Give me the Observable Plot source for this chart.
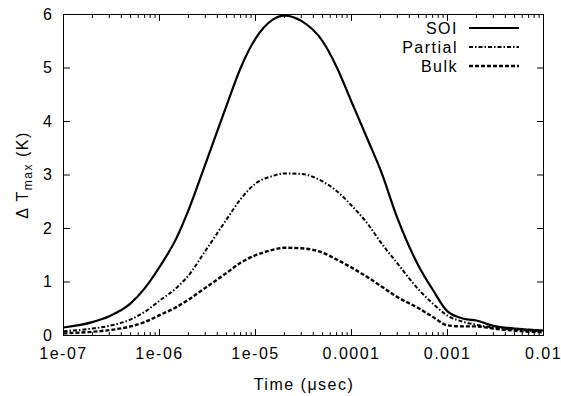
<!DOCTYPE html>
<html><head><meta charset="utf-8">
<script src="https://cdn.jsdelivr.net/npm/d3@7"></script>
<script src="https://cdn.jsdelivr.net/npm/@observablehq/plot@0.6"></script>
<style>
body{margin:0;background:#fff}
svg{display:block}
svg text{letter-spacing:1.5px}
</style>
</head><body><div id="chart"></div>
<script>
// Time in µsec (log axis)
const time = [1e-7,2e-7,3e-7,5e-7,7e-7,1e-6,1.5e-6,2e-6,3e-6,5e-6,7e-6,1e-5,1.5e-5,2e-5,3e-5,5e-5,7e-5,1e-4,1.5e-4,2e-4,3e-4,5e-4,7e-4,1e-3,1.5e-3,2e-3,3e-3,5e-3,7e-3,1e-2];
const soi     = [0.15,0.25,0.36,0.60,0.88,1.28,1.82,2.34,3.20,4.30,5.00,5.55,5.90,5.98,5.88,5.50,5.02,4.37,3.63,3.10,2.20,1.30,0.86,0.45,0.31,0.28,0.18,0.13,0.11,0.09];
const partial = [0.08,0.13,0.18,0.30,0.44,0.65,0.89,1.12,1.58,2.17,2.55,2.84,2.98,3.03,3.02,2.88,2.70,2.43,2.07,1.75,1.35,0.86,0.60,0.37,0.25,0.20,0.15,0.11,0.09,0.075];
const bulk    = [0.04,0.07,0.10,0.17,0.25,0.38,0.53,0.67,0.89,1.17,1.36,1.50,1.60,1.64,1.63,1.55,1.42,1.27,1.08,0.93,0.72,0.51,0.35,0.19,0.17,0.17,0.13,0.09,0.07,0.06];

const seriesNames = ["SOI","Partial","Bulk"];
const xTicks = [1e-7,1e-6,1e-5,1e-4,1e-3,1e-2];
const xTickLabels = ["1e-07","1e-06","1e-05","0.0001","0.001","0.01"];
const yTicks = [0,1,2,3,4,5,6];
const yTickLabels = ["0","1","2","3","4","5","6"];
const xTitle = "Time (μsec)";

const styles = {
  SOI:     {strokeWidth: 2.2, dash: null},
  Partial: {strokeWidth: 2,   dash: "4,2,1.5,2"},
  Bulk:    {strokeWidth: 2.4, dash: "4,2"}
};
const seriesValues = {SOI: soi, Partial: partial, Bulk: bulk};

const xMinor = [];
for (let e = -7; e < -2; e++) for (let m = 2; m <= 9; m++) xMinor.push(m * Math.pow(10, e));

const tickShape = {draw(ctx, l) { ctx.moveTo(0, 0); ctx.lineTo(0, -l); }};
const tickMarks = (data, ch, frameAnchor, rotate, length) =>
  Plot.vector(data, {[ch]: d => d, frameAnchor, rotate, length, anchor: "start", shape: tickShape, stroke: "black", strokeWidth: 1});

const font = "'Liberation Sans', Arial, Helvetica, sans-serif";

const lineMarks = seriesNames.map(name => {
  const rows = time.map((t, i) => ({t, v: seriesValues[name][i]}));
  return Plot.line(rows, {x: "t", y: "v", stroke: "black", strokeWidth: styles[name].strokeWidth,
    strokeDasharray: styles[name].dash, curve: "monotone-x", strokeLinejoin: "round", strokeLinecap: "butt"});
});

const plot = Plot.plot({
  width: 561, height: 396,
  marginLeft: 63, marginRight: 18, marginTop: 14, marginBottom: 61,
  style: {fontFamily: font, fontSize: "16px", color: "black", background: "white"},
  x: {type: "log", domain: [1e-7, 1e-2]},
  y: {domain: [0, 6]},
  marks: [
    ...lineMarks,
    Plot.frame({stroke: "black", strokeWidth: 1}),
    tickMarks(xTicks, "x", "bottom", 0, 6),
    tickMarks(xTicks, "x", "top", 180, 6),
    tickMarks(xMinor, "x", "bottom", 0, 3),
    tickMarks(xMinor, "x", "top", 180, 3),
    tickMarks(yTicks, "y", "left", 90, 6),
    tickMarks(yTicks, "y", "right", -90, 6),
    Plot.axisX({ticks: xTicks, tickSize: 0, tickPadding: 12, label: null, fontSize: 16,
      tickFormat: d => xTickLabels[xTicks.indexOf(d)]}),
    Plot.axisY({ticks: yTicks, tickSize: 0, tickPadding: 10, label: null, fontSize: 16,
      tickFormat: d => yTickLabels[yTicks.indexOf(d)]})
  ]
});
document.getElementById("chart").appendChild(plot);

const svg = d3.select(plot);
// x title
svg.append("text").attr("x", 304).attr("y", 390).attr("text-anchor", "middle")
  .attr("font-family", font).attr("font-size", 16).attr("fill", "black").text(xTitle);
// y title with subscript
const yt = svg.append("text").attr("transform", "translate(28,175) rotate(-90)")
  .attr("text-anchor", "middle").attr("font-family", font).attr("font-size", 16).attr("fill", "black");
yt.append("tspan").text("Δ T");
yt.append("tspan").attr("font-size", 12).attr("dy", 4).text("max");
yt.append("tspan").attr("dy", -4).text(" (K)");

// legend
const legY = [28, 47, 66];
seriesNames.forEach((name, i) => {
  svg.append("text").attr("x", 458).attr("y", legY[i] + 5.5).attr("text-anchor", "end")
    .attr("font-family", font).attr("font-size", 16).attr("fill", "black").text(name);
  svg.append("line").attr("x1", 469).attr("x2", 519).attr("y1", legY[i]).attr("y2", legY[i])
    .attr("stroke", "black").attr("stroke-width", styles[name].strokeWidth)
    .attr("stroke-dasharray", styles[name].dash);
});
</script>
</body></html>
